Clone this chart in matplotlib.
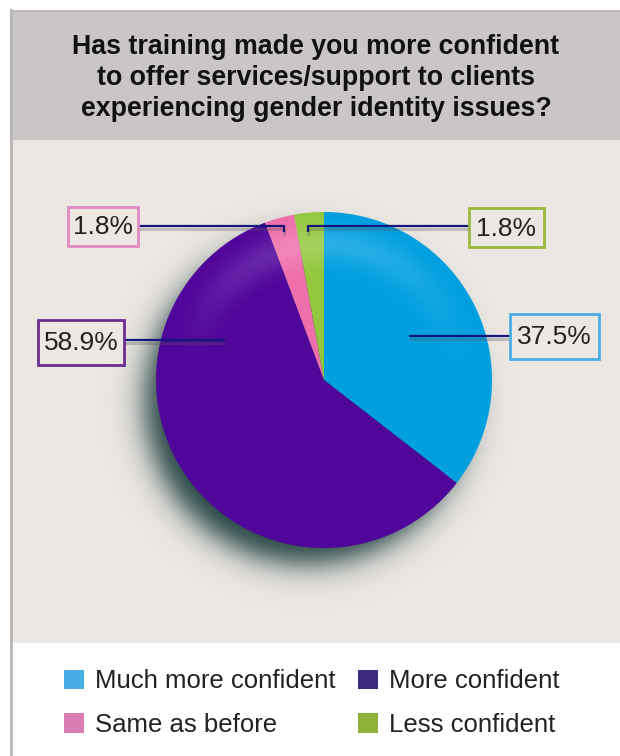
import numpy as np
import matplotlib
matplotlib.use("Agg")
import matplotlib.pyplot as plt
from matplotlib.patches import Rectangle, Circle, Patch

# data
categories = ["Much more confident", "More confident", "Same as before", "Less confident"]
# slice sizes as drawn in the picture (%), and the printed labels
shares = [35.5, 58.8, 2.85, 2.85]
pct_labels = ["37.5%", "58.9%", "1.8%", "1.8%"]
pie_colors = ["#009fdf", "#50059b", "#ee6fab", "#93c83e"]
box_colors = ["#4aaee6", "#6c2d8c", "#e08cc0", "#9bb83e"]
legend_colors = ["#47aee3", "#3e2a7e", "#d97db2", "#8eb23a"]
title = ("Has training made you more confident\n"
         "to offer services/support to clients\n"
         "experiencing gender identity issues?")

W, H = 620, 756
fig = plt.figure(figsize=(W / 100, H / 100), dpi=100)
fig.patch.set_facecolor("white")
ax = fig.add_axes([0, 0, 1, 1])

# panel backgrounds (pixel coords, y down)
ax.add_patch(Rectangle((10, 10), 620, 130, facecolor="#cbc6c6", edgecolor="none", zorder=0))
ax.add_patch(Rectangle((10, 140), 620, 503, facecolor="#ece7e3", edgecolor="none", zorder=0))
ax.plot([11, 11], [10, H], color="#b8b6b6", lw=2, zorder=1)
ax.plot([10, W], [10.5, 10.5], color="#b8b6b6", lw=1, zorder=1)

ax.text(316, 78, title, ha="center", va="center", fontsize=19.3, fontweight="bold",
        family="Liberation Sans", color="#111111", linespacing=1.24)

cx, cy, R = 324, 380, 168

# soft shadow to the lower left
ys, xs = np.mgrid[cy - 220:cy + 250, cx - 250:cx + 220]
d = np.hypot(xs - (cx - 17), ys - (cy + 21))
alpha = 0.95 / (1 + np.exp((d - (R - 6)) / 9.0))
shadow = np.zeros(xs.shape + (4,))
shadow[..., :3] = np.array([20, 55, 55]) / 255
shadow[..., 3] = alpha
ax.imshow(shadow, extent=(cx - 250, cx + 220, cy + 250, cy - 220), origin="upper",
          interpolation="bilinear", zorder=2)

# y axis is inverted, so start at -90 and go "counterclockwise" to get clockwise from the top
wedges, _ = ax.pie(shares, colors=pie_colors, startangle=-90, counterclock=True,
                   center=(cx, cy), radius=R, frame=True,
                   wedgeprops=dict(linewidth=0))
for w in wedges:
    w.set_zorder(3)

# glossy highlight band near the top of the pie
ys2, xs2 = np.mgrid[cy - R:cy + R, cx - R:cx + R]
dd = np.hypot(xs2 - cx, ys2 - cy) / R
up = np.clip((cy - ys2) / R, 0, 1)
hl = np.zeros(xs2.shape + (4,))
hl[..., :3] = 1.0
hl[..., 3] = 0.22 * np.exp(-((dd - 0.8) / 0.11) ** 2) * up ** 1.5
im = ax.imshow(hl, extent=(cx - R, cx + R, cy + R, cy - R), origin="upper",
               interpolation="bilinear", zorder=4)
clip = Circle((cx, cy), R, transform=ax.transData)
im.set_clip_path(clip)

# label boxes and leader lines
boxes = [(510, 314, 89, 45), (38, 320, 86, 45), (68, 207, 70, 39), (469, 208, 75, 39)]
leaders = [
    [(409, 336), (510, 336)],
    [(124, 340), (225, 340)],
    [(138, 226), (284, 226), (284, 232)],
    [(469, 226), (308, 226), (308, 232)],
]
for (bx, by, bw, bh), col, txt, pts in zip(boxes, box_colors, pct_labels, leaders):
    px = [p[0] for p in pts]
    py = [p[1] for p in pts]
    ax.plot(px, [v + 3 for v in py], color="#555555", alpha=0.3, lw=2.2, zorder=5,
            solid_capstyle="butt")
    ax.plot(px, py, color="#16167a", lw=1.6, zorder=6, solid_capstyle="butt")
    ax.add_patch(Rectangle((bx, by), bw, bh, facecolor="#ece7e3", edgecolor=col,
                           lw=2, zorder=7))
    ax.text(bx + bw / 2, by + bh / 2 + 1, txt, ha="center", va="center", fontsize=19,
            family="Liberation Sans", color="#222222", zorder=8)

# legend
order = [0, 2, 1, 3]
handles = [Patch(facecolor=legend_colors[i], edgecolor="none") for i in order]
ax.legend(handles, [categories[i] for i in order], ncol=2, loc="upper left",
          bbox_to_anchor=(54, 659), bbox_transform=ax.transData, frameon=False,
          prop=dict(family="Liberation Sans", size=18.5), labelcolor="#222222",
          handlelength=0.78, handleheight=0.78, handletextpad=0.43,
          columnspacing=0.86, labelspacing=0.76, borderaxespad=0)

ax.set_xlim(0, W)
ax.set_ylim(H, 0)
ax.set_aspect("auto")
ax.axis("off")

fig.savefig("out.png", dpi=100, facecolor="white")
